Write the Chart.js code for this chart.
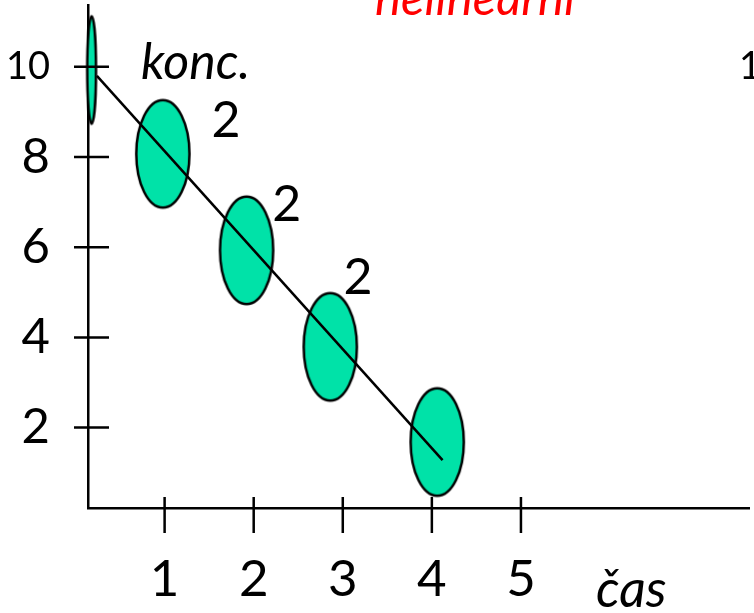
<!DOCTYPE html>
<html>
<head>
<meta charset="utf-8">
<script src="https://cdn.jsdelivr.net/npm/chart.js@4/dist/chart.umd.min.js"></script>
<style>
  html, body { margin: 0; padding: 0; background: #ffffff; }
  #wrap { width: 754px; height: 613px; }
</style>
</head>
<body>
<div id="wrap"><canvas id="c" width="754" height="613"></canvas></div>
<script>
// Concentration measured over time (each sample shown as an ellipse)
const timePoints     = [0.18, 0.98, 1.92, 2.86, 4.06];
const concentrations = [9.93, 8.07, 5.93, 3.79, 1.68];

// Straight trend line through the samples
const fitTime = [0.24, 4.12];
const fitConc = [9.80, 1.28];

// Axis tick values
const xTickValues = [1, 2, 3, 4, 5];
const yTickValues = [2, 4, 6, 8, 10];

// Drop in concentration between neighbouring samples
const stepLabels = ['2', '2', '2'];

const FILL = '#00E2A8';

function ellipseSprite(rx, ry) {
  const lw = 2.5;
  const c = document.createElement('canvas');
  c.width = Math.ceil(2 * rx + lw + 2);
  c.height = Math.ceil(2 * ry + lw + 2);
  const g = c.getContext('2d');
  g.beginPath();
  g.ellipse(c.width / 2, c.height / 2, rx, ry, 0, 0, Math.PI * 2);
  g.fillStyle = FILL;
  g.fill();
  g.lineWidth = lw;
  g.strokeStyle = '#000';
  g.stroke();
  return c;
}
const thinEllipse = ellipseSprite(4.4, 53.8);
const wideEllipse = ellipseSprite(26.6, 53.8);

// Tick marks that cross the axis lines
const crossTicks = {
  id: 'crossTicks',
  afterDatasetsDraw(chart) {
    const { ctx, scales: { x, y } } = chart;
    ctx.save();
    ctx.strokeStyle = '#000';
    ctx.lineWidth = 2.5;
    ctx.beginPath();
    x.ticks.forEach((t, i) => {
      const px = x.getPixelForTick(i);
      ctx.moveTo(px, y.bottom - 11);
      ctx.lineTo(px, y.bottom + 25);
    });
    y.ticks.forEach((t, i) => {
      const py = y.getPixelForTick(i);
      ctx.moveTo(x.left - 14, py);
      ctx.lineTo(x.left + 21, py);
    });
    ctx.stroke();
    ctx.restore();
  }
};

// Free text on the figure
const textLayer = {
  id: 'textLayer',
  afterDraw(chart, args, opts) {
    const { ctx, scales: { x, y } } = chart;
    ctx.save();
    ctx.textBaseline = 'alphabetic';
    ctx.textAlign = 'left';

    ctx.fillStyle = '#ff0000';
    ctx.font = 'italic 49px Lato';
    ctx.fillText('nelineární', 375, 15);

    ctx.fillStyle = '#000';
    ctx.font = 'italic 50px Lato';
    ctx.fillText('konc.', 141, 79);

    ctx.font = 'italic 52px Lato';
    ctx.fillText('čas', 596, 607);

    ctx.font = '38px Lato';
    ctx.fillText('10', 739, 79);

    ctx.font = '50px Lato';
    ctx.textAlign = 'center';
    ctx.textBaseline = 'middle';
    opts.steps.forEach((p, i) => {
      ctx.fillText(stepLabels[i], x.getPixelForValue(p.x), y.getPixelForValue(p.y));
    });
    ctx.restore();
  }
};

new Chart(document.getElementById('c'), {
  type: 'scatter',
  data: {
    datasets: [
      {
        data: fitTime.map((t, i) => ({ x: t, y: fitConc[i] })),
        showLine: true,
        borderColor: '#000',
        borderWidth: 2.5,
        pointRadius: 0,
        fill: false
      },
      {
        data: timePoints.map((t, i) => ({ x: t, y: concentrations[i] })),
        pointStyle: timePoints.map((t, i) => (i === 0 ? thinEllipse : wideEllipse)),
        pointRadius: 1,
        clip: false
      }
    ]
  },
  options: {
    responsive: false,
    animation: false,
    events: [],
    layout: { padding: { top: 5, right: 0, bottom: 0, left: 0 } },
    plugins: {
      legend: { display: false },
      tooltip: { enabled: false },
      textLayer: {
        steps: [
          { x: 1.69, y: 8.80 },
          { x: 2.37, y: 6.93 },
          { x: 3.17, y: 5.31 }
        ]
      }
    },
    scales: {
      x: {
        type: 'linear',
        min: 0.14,
        max: 7.56,
        grid: { display: false, drawTicks: false },
        border: { display: true, color: '#000', width: 2.5 },
        afterBuildTicks: s => { s.ticks = xTickValues.map(v => ({ value: v })); },
        afterFit: s => { s.height = 105; s.paddingLeft = 0; s.paddingRight = 0; },
        ticks: {
          color: '#000',
          font: { family: 'Lato', size: 51 },
          padding: 41,
          maxRotation: 0,
          autoSkip: false,
          callback: v => String(v)
        }
      },
      y: {
        type: 'linear',
        min: 0.217,
        max: 11.37,
        grid: { display: false, drawTicks: false },
        border: { display: true, color: '#000', width: 2.5 },
        afterBuildTicks: s => { s.ticks = yTickValues.map(v => ({ value: v })); },
        afterFit: s => { s.width = 88; s.paddingTop = 0; s.paddingBottom = 0; },
        ticks: {
          color: '#000',
          font: ctx => ({ family: 'Lato', size: ctx.tick && ctx.tick.value === 10 ? 38 : 49 }),
          padding: 38,
          autoSkip: false,
          callback: v => String(v)
        }
      }
    }
  },
  plugins: [crossTicks, textLayer]
});
</script>
</body>
</html>
